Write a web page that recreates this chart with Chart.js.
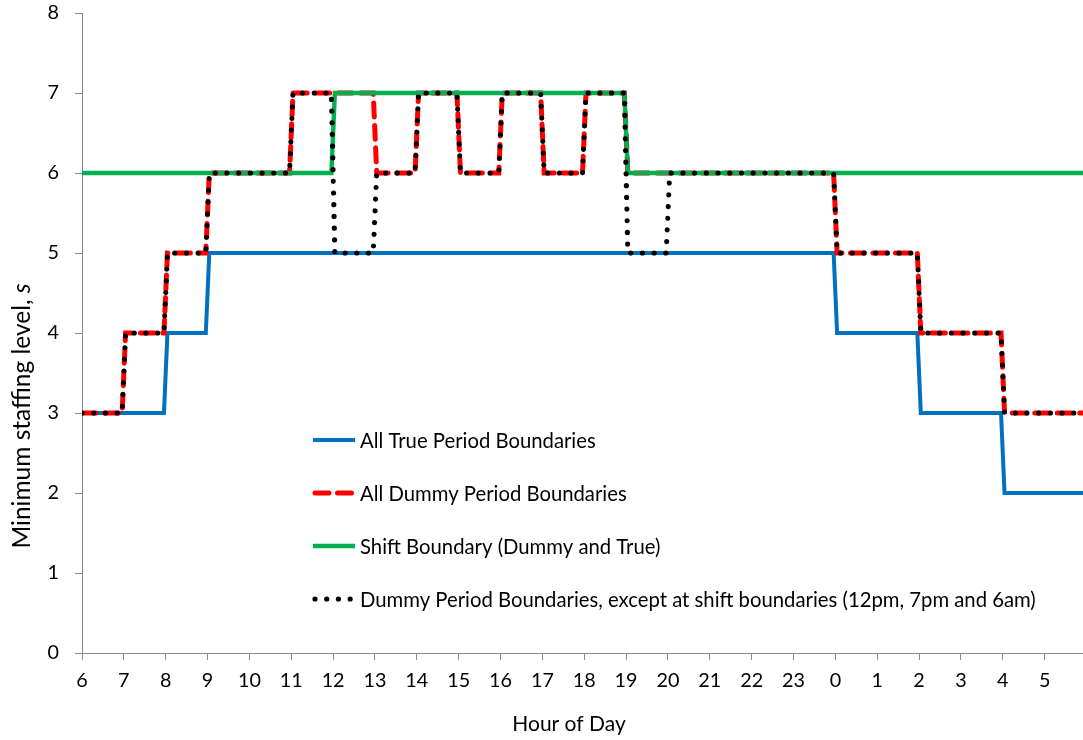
<!DOCTYPE html>
<html>
<head>
<meta charset="utf-8">
<title>Minimum staffing level by hour of day</title>
<script src="https://cdn.jsdelivr.net/npm/chart.js@4.4.1/dist/chart.umd.min.js"></script>
<style>
  html, body { margin: 0; padding: 0; background: #ffffff; }
  #wrap { width: 1083px; height: 740px; position: relative; }
  canvas { display: block; }
</style>
</head>
<body>
<div id="wrap"><canvas id="staffing" width="1083" height="740"></canvas></div>
<script>
// Hour-of-day tick labels, the day starts at 6 am
const hourLabels = ['6', '7', '8', '9', '10', '11', '12', '13', '14', '15', '16', '17',
                    '18', '19', '20', '21', '22', '23', '0', '1', '2', '3', '4', '5'];

// Last 5-minute slot of the day (5:55 am), in hours after 6 am
const dayEnd = 23 + 55 / 60;

// Each series: hours after 6 am at which the level changes, and the level from then on
const trueChangeHours = [0, 2, 3, 18, 20, 22];
const trueLevels      = [3, 4, 5, 4, 3, 2];

const dummyChangeHours = [0, 1, 2, 3, 5, 7, 8, 9, 10, 11, 12, 13, 18, 20, 22];
const dummyLevels      = [3, 4, 5, 6, 7, 6, 7, 6, 7, 6, 7, 6, 5, 4, 3];

const shiftChangeHours = [0, 6, 13];
const shiftLevels      = [6, 7, 6];

const exceptChangeHours = [0, 1, 2, 3, 5, 6, 7, 8, 9, 10, 11, 12, 13, 14, 18, 20, 22];
const exceptLevels      = [3, 4, 5, 6, 7, 5, 6, 7, 6, 7, 6, 7, 5, 6, 5, 4, 3];

const seriesNames = [
  'All True Period Boundaries',
  'All Dummy Period Boundaries',
  'Shift Boundary (Dummy and True)',
  'Dummy Period Boundaries, except at shift boundaries (12pm, 7pm and 6am)'
];

// A level change spans one 5-minute slot, centred on the change hour
const RAMP = 2.5 / 60;

function stepPoints(hours, levels) {
  const pts = [{ x: hours[0], y: levels[0] }];
  for (let i = 1; i < hours.length; i++) {
    pts.push({ x: hours[i] - RAMP, y: levels[i - 1] });
    pts.push({ x: hours[i] + RAMP, y: levels[i] });
  }
  pts.push({ x: dayEnd, y: levels[levels.length - 1] });
  return pts;
}

const FONT = 'Lato, "Open Sans", "DejaVu Sans", sans-serif';
const AXIS_GREY = '#898989';

// Legend and axis titles drawn inside the canvas
const chartText = {
  id: 'chartText',
  afterDraw(chart) {
    const ctx = chart.ctx;
    const rows = [440, 493, 546, 599];
    chart.data.datasets.forEach((ds, i) => {
      const y = rows[i];
      ctx.save();
      ctx.strokeStyle = ds.borderColor;
      ctx.lineWidth = ds.borderWidth;
      ctx.setLineDash(ds.borderDash || []);
      ctx.lineCap = ds.borderCapStyle || 'butt';
      ctx.beginPath();
      if (ds.borderDash && ds.borderDash.length) {
        ctx.moveTo(315, y);
        ctx.lineTo(353, y);
      } else {
        ctx.moveTo(313, y);
        ctx.lineTo(355, y);
      }
      ctx.stroke();
      ctx.restore();

      ctx.save();
      ctx.fillStyle = '#000000';
      ctx.font = '20.3px ' + FONT;
      ctx.textAlign = 'left';
      ctx.textBaseline = 'middle';
      ctx.fillText(ds.label, 360, y + 1);
      ctx.restore();
    });

    // x-axis title
    ctx.save();
    ctx.fillStyle = '#000000';
    ctx.font = '21px ' + FONT;
    ctx.textAlign = 'center';
    ctx.textBaseline = 'alphabetic';
    ctx.fillText('Hour of Day', 569, 731);
    ctx.restore();

    // y-axis title, with an italic symbol
    ctx.save();
    ctx.fillStyle = '#000000';
    ctx.translate(30, 416);
    ctx.rotate(-Math.PI / 2);
    ctx.textBaseline = 'alphabetic';
    ctx.textAlign = 'left';
    const main = 'Minimum staffing level, ';
    const size = '24.5px ';
    ctx.font = size + FONT;
    const w1 = ctx.measureText(main).width;
    ctx.font = 'italic ' + size + FONT;
    const w2 = ctx.measureText('s').width;
    const start = -(w1 + w2) / 2;
    ctx.font = size + FONT;
    ctx.fillText(main, start, 0);
    ctx.font = 'italic ' + size + FONT;
    ctx.fillText('s', start + w1, 0);
    ctx.restore();
  }
};

new Chart(document.getElementById('staffing'), {
  type: 'line',
  data: {
    datasets: [
      {
        label: seriesNames[0],
        data: stepPoints(trueChangeHours, trueLevels),
        borderColor: '#0070C0',
        borderWidth: 4,
        order: 3
      },
      {
        label: seriesNames[1],
        data: stepPoints(dummyChangeHours, dummyLevels),
        borderColor: '#FF0000',
        borderWidth: 5,
        borderDash: [14, 8.5],
        borderCapStyle: 'round',
        order: 2
      },
      {
        label: seriesNames[2],
        data: stepPoints(shiftChangeHours, shiftLevels),
        borderColor: '#00B050',
        borderWidth: 4.4,
        order: 1
      },
      {
        label: seriesNames[3],
        data: stepPoints(exceptChangeHours, exceptLevels),
        borderColor: '#000000',
        borderWidth: 5.2,
        borderDash: [0.01, 11.7],
        borderCapStyle: 'round',
        order: 0
      }
    ]
  },
  options: {
    responsive: false,
    maintainAspectRatio: false,
    devicePixelRatio: 1,
    animation: false,
    layout: { padding: { top: 13, right: 0, bottom: 0, left: 0 } },
    elements: {
      point: { radius: 0, hoverRadius: 0 },
      line: { tension: 0, fill: false, borderJoinStyle: 'miter' }
    },
    plugins: {
      legend: { display: false },
      tooltip: { enabled: false }
    },
    events: [],
    scales: {
      x: {
        type: 'linear',
        min: 0,
        max: dayEnd,
        afterBuildTicks(scale) {
          scale.ticks = hourLabels.map((_, i) => ({ value: i }));
        },
        afterFit(scale) {
          scale.height = 87;
          scale.paddingLeft = 0;
          scale.paddingRight = 0;
        },
        ticks: {
          autoSkip: false,
          maxRotation: 0,
          padding: 9,
          color: '#000000',
          font: { family: FONT, size: 19.8 },
          callback: (v) => hourLabels[v]
        },
        grid: {
          drawOnChartArea: false,
          drawTicks: true,
          tickLength: 7,
          color: AXIS_GREY,
          lineWidth: 1
        },
        border: { display: true, color: AXIS_GREY, width: 1 }
      },
      y: {
        min: 0,
        max: 8,
        afterFit(scale) {
          scale.width = 82;
          scale.paddingTop = 0;
          scale.paddingBottom = 0;
        },
        ticks: {
          stepSize: 1,
          padding: 16,
          color: '#000000',
          font: { family: FONT, size: 19.8 }
        },
        grid: {
          drawOnChartArea: false,
          drawTicks: true,
          tickLength: 7,
          color: AXIS_GREY,
          lineWidth: 1
        },
        border: { display: true, color: AXIS_GREY, width: 1 }
      }
    }
  },
  plugins: [chartText]
});
</script>
</body>
</html>
